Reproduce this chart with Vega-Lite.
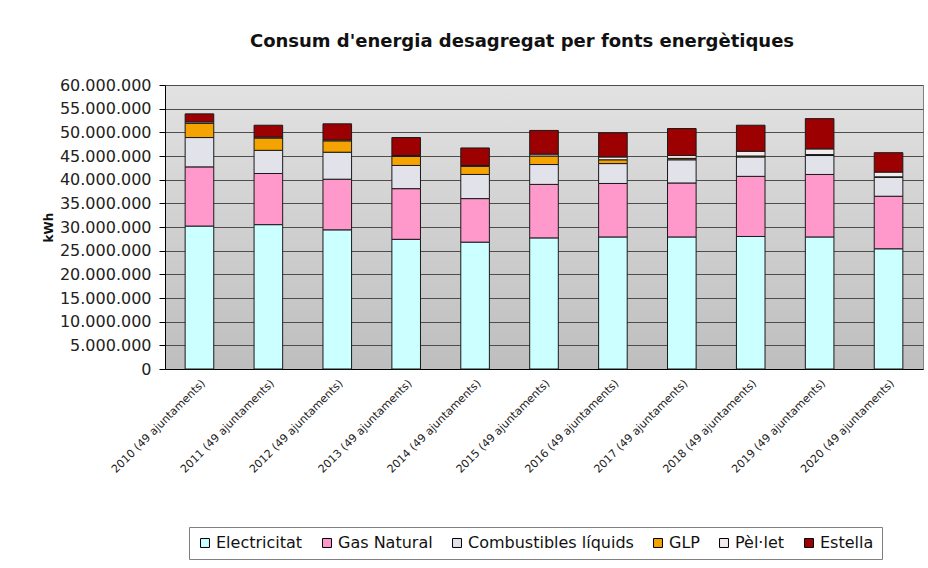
{
  "$schema": "https://vega.github.io/schema/vega-lite/v6.json",
  "width": 758,
  "height": 284,
  "autosize": {"type": "none"},
  "padding": {"left": 165, "top": 85, "right": 5, "bottom": 199},
  "background": "white",
  "config": {
    "locale": {"number": {"decimal": ",", "thousands": ".", "grouping": [3], "currency": ["", " €"]}},
    "font": "DejaVu Sans",
    "view": {
      "fill": {"gradient": "linear", "x1": 0, "y1": 0, "x2": 0, "y2": 1,
        "stops": [{"offset": 0, "color": "#e2e2e2"}, {"offset": 1, "color": "#bebebe"}]},
      "stroke": "#808080"
    }
  },
  "title": {
    "text": "Consum d'energia desagregat per fonts energètiques",
    "font": "DejaVu Sans",
    "fontSize": 18,
    "fontWeight": "bold",
    "color": "#111111",
    "anchor": "middle",
    "dx": -22,
    "offset": 26
  },
  "data": {
    "values": [
      {"any": "2010 (49 ajuntaments)", "font": "Electricitat", "kWh": 30200000},
      {"any": "2010 (49 ajuntaments)", "font": "Gas Natural", "kWh": 12500000},
      {"any": "2010 (49 ajuntaments)", "font": "Combustibles líquids", "kWh": 6200000},
      {"any": "2010 (49 ajuntaments)", "font": "GLP", "kWh": 3000000},
      {"any": "2010 (49 ajuntaments)", "font": "Pèl·let", "kWh": 300000},
      {"any": "2010 (49 ajuntaments)", "font": "Estella", "kWh": 1700000},
      {"any": "2011 (49 ajuntaments)", "font": "Electricitat", "kWh": 30500000},
      {"any": "2011 (49 ajuntaments)", "font": "Gas Natural", "kWh": 10800000},
      {"any": "2011 (49 ajuntaments)", "font": "Combustibles líquids", "kWh": 4900000},
      {"any": "2011 (49 ajuntaments)", "font": "GLP", "kWh": 2600000},
      {"any": "2011 (49 ajuntaments)", "font": "Pèl·let", "kWh": 200000},
      {"any": "2011 (49 ajuntaments)", "font": "Estella", "kWh": 2500000},
      {"any": "2012 (49 ajuntaments)", "font": "Electricitat", "kWh": 29400000},
      {"any": "2012 (49 ajuntaments)", "font": "Gas Natural", "kWh": 10700000},
      {"any": "2012 (49 ajuntaments)", "font": "Combustibles líquids", "kWh": 5700000},
      {"any": "2012 (49 ajuntaments)", "font": "GLP", "kWh": 2400000},
      {"any": "2012 (49 ajuntaments)", "font": "Pèl·let", "kWh": 200000},
      {"any": "2012 (49 ajuntaments)", "font": "Estella", "kWh": 3400000},
      {"any": "2013 (49 ajuntaments)", "font": "Electricitat", "kWh": 27400000},
      {"any": "2013 (49 ajuntaments)", "font": "Gas Natural", "kWh": 10700000},
      {"any": "2013 (49 ajuntaments)", "font": "Combustibles líquids", "kWh": 4900000},
      {"any": "2013 (49 ajuntaments)", "font": "GLP", "kWh": 1900000},
      {"any": "2013 (49 ajuntaments)", "font": "Pèl·let", "kWh": 200000},
      {"any": "2013 (49 ajuntaments)", "font": "Estella", "kWh": 3800000},
      {"any": "2014 (49 ajuntaments)", "font": "Electricitat", "kWh": 26800000},
      {"any": "2014 (49 ajuntaments)", "font": "Gas Natural", "kWh": 9200000},
      {"any": "2014 (49 ajuntaments)", "font": "Combustibles líquids", "kWh": 5100000},
      {"any": "2014 (49 ajuntaments)", "font": "GLP", "kWh": 1700000},
      {"any": "2014 (49 ajuntaments)", "font": "Pèl·let", "kWh": 200000},
      {"any": "2014 (49 ajuntaments)", "font": "Estella", "kWh": 3700000},
      {"any": "2015 (49 ajuntaments)", "font": "Electricitat", "kWh": 27700000},
      {"any": "2015 (49 ajuntaments)", "font": "Gas Natural", "kWh": 11300000},
      {"any": "2015 (49 ajuntaments)", "font": "Combustibles líquids", "kWh": 4200000},
      {"any": "2015 (49 ajuntaments)", "font": "GLP", "kWh": 1800000},
      {"any": "2015 (49 ajuntaments)", "font": "Pèl·let", "kWh": 400000},
      {"any": "2015 (49 ajuntaments)", "font": "Estella", "kWh": 5000000},
      {"any": "2016 (49 ajuntaments)", "font": "Electricitat", "kWh": 27900000},
      {"any": "2016 (49 ajuntaments)", "font": "Gas Natural", "kWh": 11300000},
      {"any": "2016 (49 ajuntaments)", "font": "Combustibles líquids", "kWh": 4200000},
      {"any": "2016 (49 ajuntaments)", "font": "GLP", "kWh": 800000},
      {"any": "2016 (49 ajuntaments)", "font": "Pèl·let", "kWh": 600000},
      {"any": "2016 (49 ajuntaments)", "font": "Estella", "kWh": 5100000},
      {"any": "2017 (49 ajuntaments)", "font": "Electricitat", "kWh": 27900000},
      {"any": "2017 (49 ajuntaments)", "font": "Gas Natural", "kWh": 11400000},
      {"any": "2017 (49 ajuntaments)", "font": "Combustibles líquids", "kWh": 4900000},
      {"any": "2017 (49 ajuntaments)", "font": "GLP", "kWh": 300000},
      {"any": "2017 (49 ajuntaments)", "font": "Pèl·let", "kWh": 600000},
      {"any": "2017 (49 ajuntaments)", "font": "Estella", "kWh": 5700000},
      {"any": "2018 (49 ajuntaments)", "font": "Electricitat", "kWh": 28000000},
      {"any": "2018 (49 ajuntaments)", "font": "Gas Natural", "kWh": 12700000},
      {"any": "2018 (49 ajuntaments)", "font": "Combustibles líquids", "kWh": 4100000},
      {"any": "2018 (49 ajuntaments)", "font": "GLP", "kWh": 200000},
      {"any": "2018 (49 ajuntaments)", "font": "Pèl·let", "kWh": 1000000},
      {"any": "2018 (49 ajuntaments)", "font": "Estella", "kWh": 5500000},
      {"any": "2019 (49 ajuntaments)", "font": "Electricitat", "kWh": 27900000},
      {"any": "2019 (49 ajuntaments)", "font": "Gas Natural", "kWh": 13200000},
      {"any": "2019 (49 ajuntaments)", "font": "Combustibles líquids", "kWh": 4000000},
      {"any": "2019 (49 ajuntaments)", "font": "GLP", "kWh": 200000},
      {"any": "2019 (49 ajuntaments)", "font": "Pèl·let", "kWh": 1200000},
      {"any": "2019 (49 ajuntaments)", "font": "Estella", "kWh": 6400000},
      {"any": "2020 (49 ajuntaments)", "font": "Electricitat", "kWh": 25400000},
      {"any": "2020 (49 ajuntaments)", "font": "Gas Natural", "kWh": 11100000},
      {"any": "2020 (49 ajuntaments)", "font": "Combustibles líquids", "kWh": 4000000},
      {"any": "2020 (49 ajuntaments)", "font": "GLP", "kWh": 100000},
      {"any": "2020 (49 ajuntaments)", "font": "Pèl·let", "kWh": 1000000},
      {"any": "2020 (49 ajuntaments)", "font": "Estella", "kWh": 4100000}
    ]
  },
  "transform": [
    {"calculate": "indexof(['Electricitat', 'Gas Natural', 'Combustibles líquids', 'GLP', 'Pèl·let', 'Estella'], datum.font)", "as": "ordre_pila"}
  ],
  "mark": {"type": "bar", "stroke": "#1a1a1a", "strokeWidth": 1},
  "encoding": {
    "x": {
      "field": "any",
      "type": "nominal",
      "sort": null,
      "scale": {"paddingInner": 0.585, "paddingOuter": 0.2925},
      "axis": {
        "title": null,
        "labelAngle": -45,
        "labelFont": "DejaVu Sans",
        "labelFontSize": 11,
        "labelColor": "#222222",
        "ticks": false,
        "labelPadding": 8,
        "domainColor": "#000000"
      }
    },
    "y": {
      "field": "kWh",
      "type": "quantitative",
      "stack": "zero",
      "scale": {"domain": [0, 60000000], "nice": false},
      "axis": {
        "title": "kWh",
        "titleFont": "DejaVu Sans",
        "titleFontSize": 12,
        "titleFontWeight": "bold",
        "titleColor": "#111111",
        "titleAngle": -90,
        "titleX": -117,
        "titleY": 142,
        "titleAlign": "center",
        "titleBaseline": "middle",
        "values": [0, 5000000, 10000000, 15000000, 20000000, 25000000, 30000000, 35000000, 40000000, 45000000, 50000000, 55000000, 60000000],
        "format": ",d",
        "labelFont": "DejaVu Sans",
        "labelFontSize": 16,
        "labelColor": "#222222",
        "tickSize": 6,
        "tickColor": "#000000",
        "labelPadding": 8,
        "domainColor": "#000000",
        "gridColor": "#4d4d4d",
        "gridOpacity": 1
      }
    },
    "order": {"field": "ordre_pila", "type": "quantitative", "sort": "ascending"},
    "color": {
      "field": "font",
      "type": "nominal",
      "sort": ["Electricitat", "Gas Natural", "Combustibles líquids", "GLP", "Pèl·let", "Estella"],
      "scale": {
        "domain": ["Electricitat", "Gas Natural", "Combustibles líquids", "GLP", "Pèl·let", "Estella"],
        "range": ["#ccffff", "#ff99cc", "#e2e2ea", "#f5a300", "#f4ecec", "#9c0000"]
      },
      "legend": {
        "title": null,
        "orient": "none",
        "legendX": 24,
        "legendY": 442,
        "direction": "horizontal",
        "symbolType": "square",
        "symbolSize": 80,
        "symbolStrokeColor": "#000000",
        "symbolStrokeWidth": 1,
        "labelFont": "DejaVu Sans",
        "labelFontSize": 16,
        "labelLimit": 400,
        "labelColor": "#111111",
        "labelOffset": 3,
        "columnPadding": 16,
        "padding": 8,
        "strokeColor": "#7f7f7f",
        "fillColor": "#ffffff"
      }
    }
  }
}
